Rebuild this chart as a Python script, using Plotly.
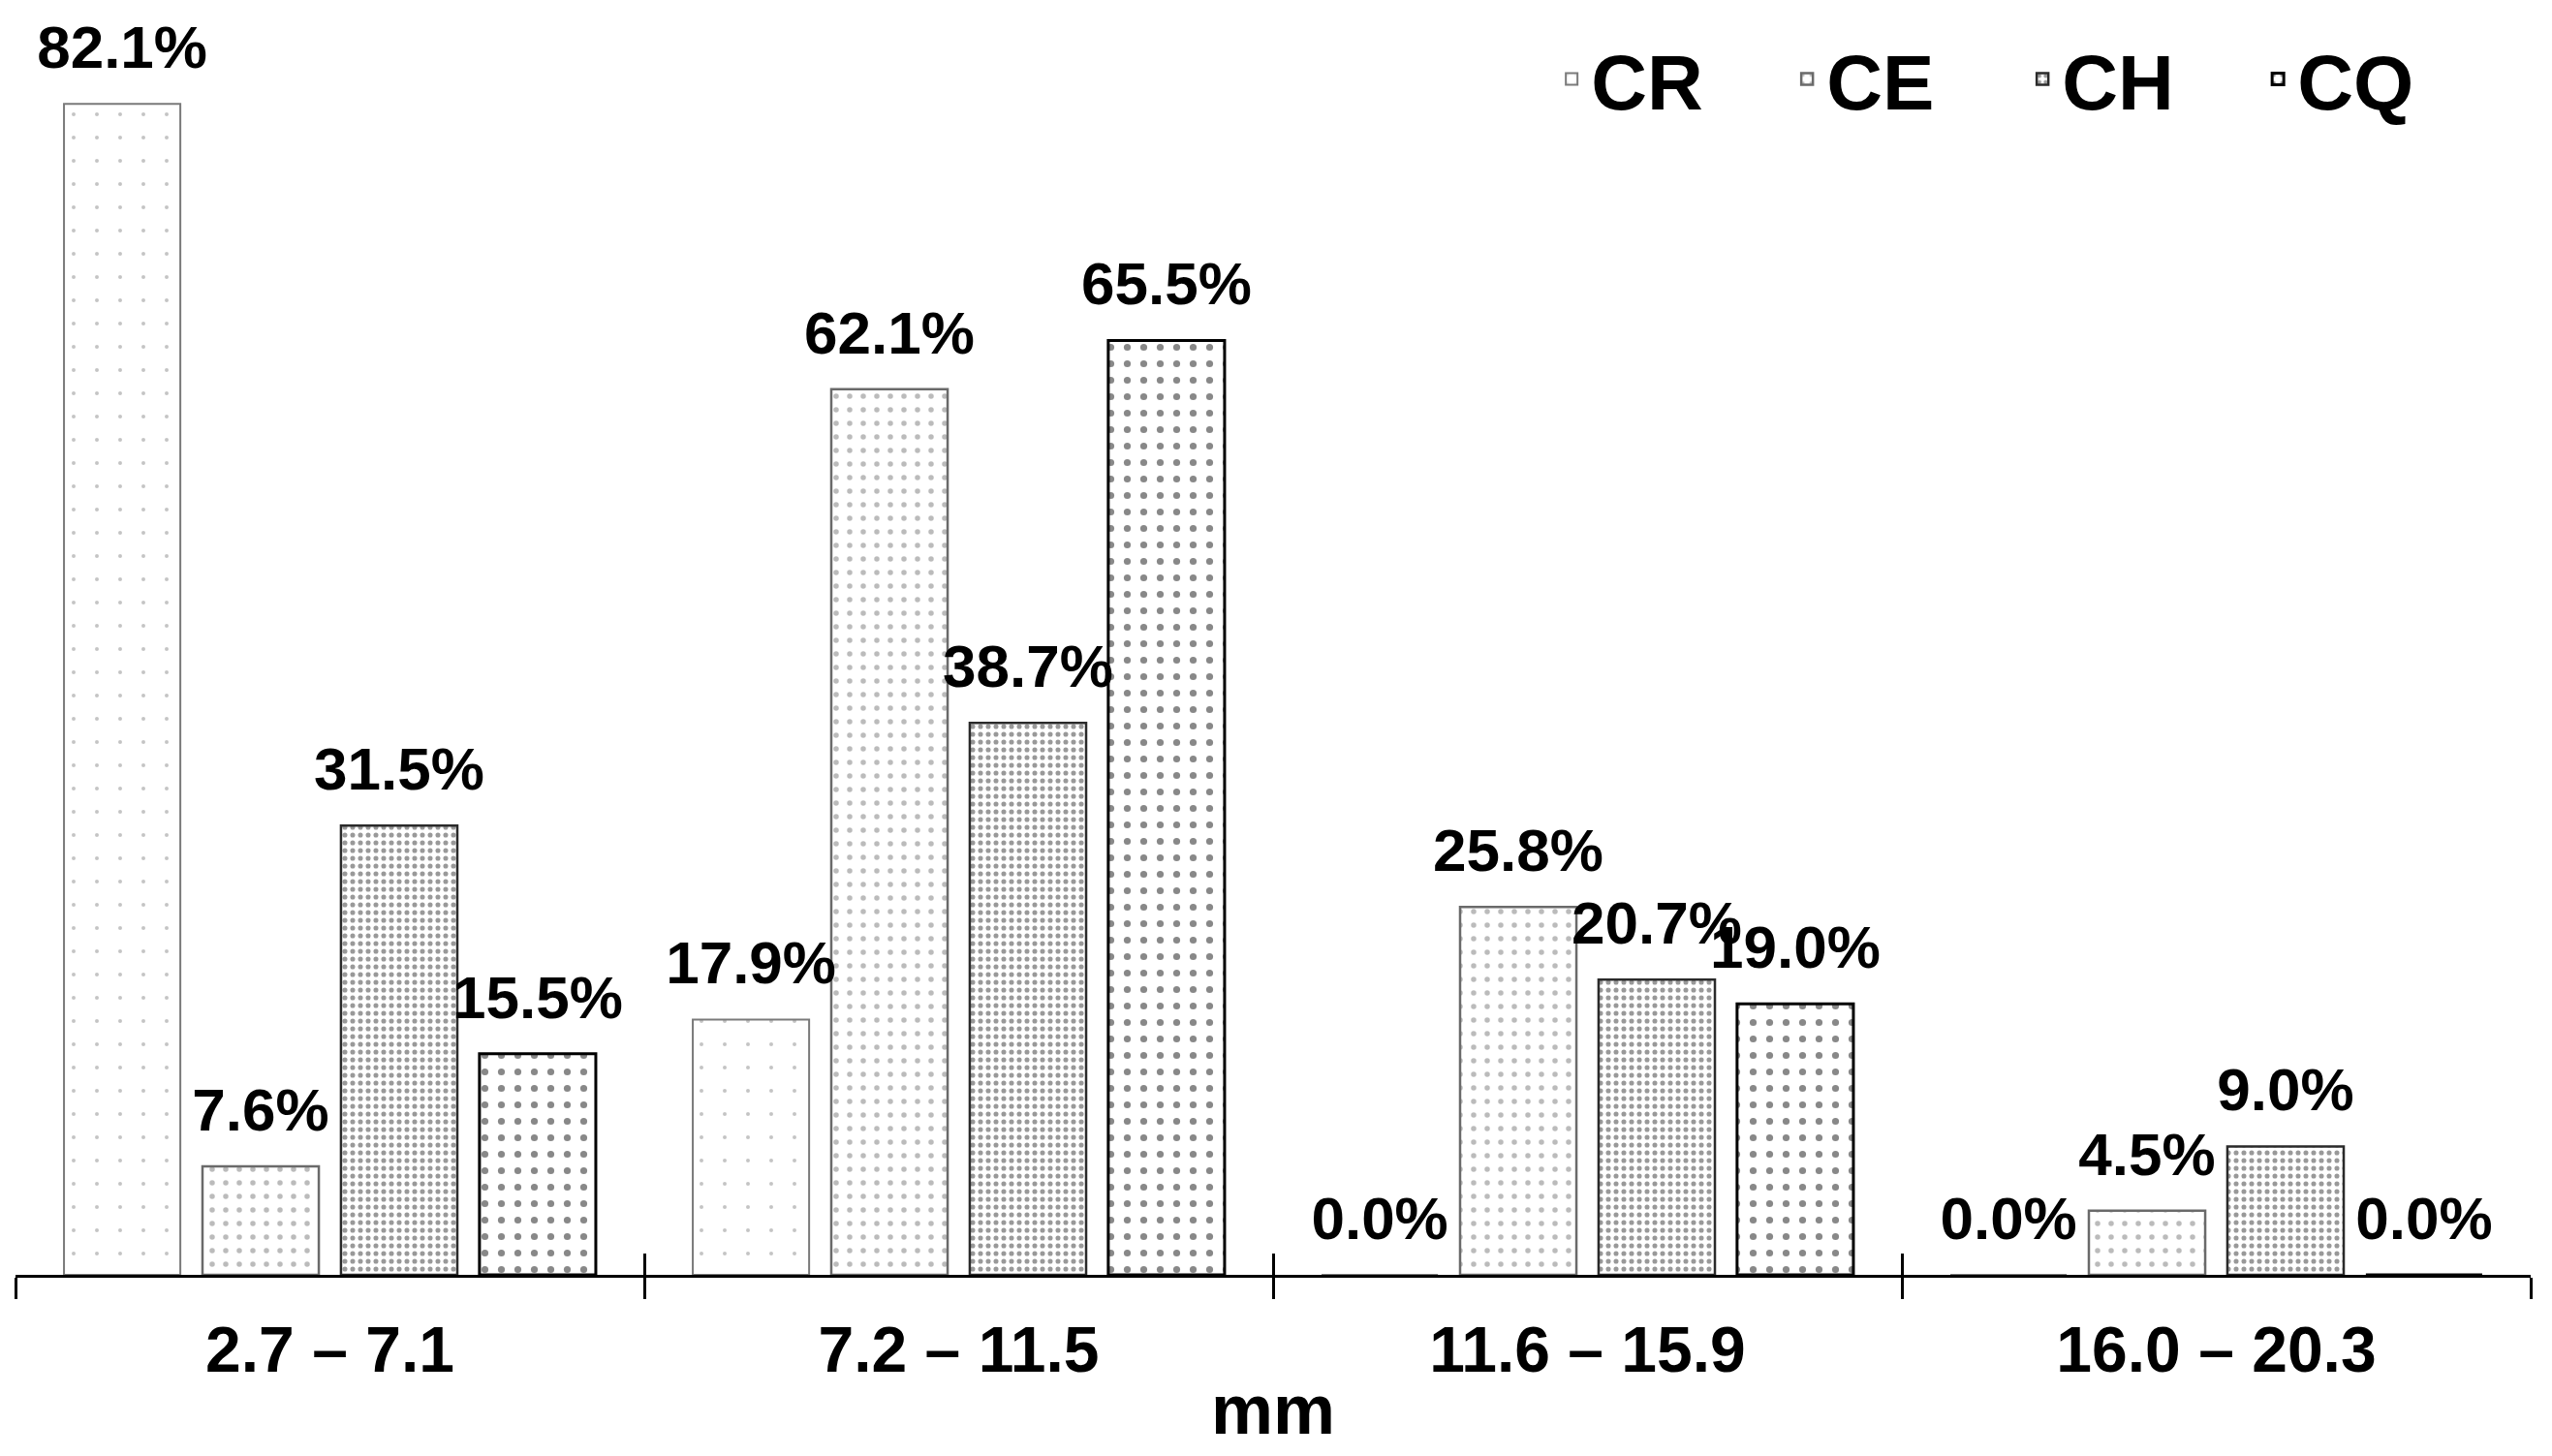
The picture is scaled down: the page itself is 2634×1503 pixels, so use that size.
import plotly.graph_objects as go

categories = ["2.7 – 7.1", "7.2 – 11.5", "11.6 – 15.9", "16.0 – 20.3"]
series_names = ["CR", "CE", "CH", "CQ"]
cr_values = [82.1, 17.9, 0.0, 0.0]
ce_values = [7.6, 62.1, 25.8, 4.5]
ch_values = [31.5, 38.7, 20.7, 9.0]
cq_values = [15.5, 65.5, 19.0, 0.0]
x_title = "mm"

values = [cr_values, ce_values, ch_values, cq_values]
styles = [
    dict(fg="#8a8a8a", size=24, sol=0.022, line="#7a7a7a", lw=2),
    dict(fg="#777777", size=14, sol=0.12, line="#6a6a6a", lw=2.5),
    dict(fg="#333333", size=8, sol=0.32, line="#2a2a2a", lw=2.5),
    dict(fg="#111111", size=17, sol=0.14, line="#000000", lw=3),
]

FONT = "Liberation Sans, Arial, sans-serif"
BARGAP = 0.119

fig = go.Figure()
for name, vals, st in zip(series_names, values, styles):
    fig.add_trace(go.Bar(
        name=name, x=categories, y=vals, offsetgroup=name,
        marker=dict(color="white",
                    line=dict(color=st["line"], width=st["lw"]),
                    pattern=dict(shape=".", fgcolor=st["fg"], bgcolor="white",
                                 size=st["size"], solidity=st["sol"], fillmode="overlay")),
    ))

# value labels, grouped like the bars
for name, vals in zip(series_names, values):
    fig.add_trace(go.Scatter(
        x=categories, y=vals, offsetgroup=name, mode="markers+text",
        text=[f"{v:.1f}%" for v in vals], textposition="top center",
        textfont=dict(family=FONT, size=62, color="black", weight="bold"),
        marker=dict(size=33, color="rgba(0,0,0,0)", line=dict(width=0)),
        showlegend=False, hoverinfo="skip", cliponaxis=False,
    ))

# invisible helper trace for the inside half of the crossing ticks
fig.add_trace(go.Scatter(x=categories, y=[None] * len(categories), xaxis="x2",
                         showlegend=False, hoverinfo="skip", mode="markers"))

fig.update_layout(
    width=2618, height=1487,
    margin=dict(l=8, r=14, t=2, b=179),
    paper_bgcolor="white", plot_bgcolor="white",
    barmode="group", bargap=BARGAP, bargroupgap=0.16,
    scattermode="group", scattergap=BARGAP,
    font=dict(family=FONT, color="black"),
    xaxis=dict(
        type="category", categoryorder="array", categoryarray=categories,
        showline=True, linecolor="black", linewidth=3,
        ticks="outside", tickson="boundaries", ticklen=22, tickwidth=2.5, tickcolor="black",
        tickfont=dict(family=FONT, size=66, color="black", weight="bold"),
        ticklabelstandoff=18,
        title=dict(text=x_title, font=dict(family=FONT, size=72, color="black", weight="bold"),
                   standoff=4),
        showgrid=False, zeroline=False, automargin=False,
    ),
    xaxis2=dict(
        type="category", categoryorder="array", categoryarray=categories,
        overlaying="x", matches="x", anchor="y", side="bottom",
        ticks="inside", tickson="boundaries", ticklen=22, tickwidth=2.5, tickcolor="black",
        showticklabels=False, showline=False, showgrid=False, zeroline=False,
    ),
    yaxis=dict(range=[0, 88.7], visible=False, showgrid=False, zeroline=False),
    legend=dict(
        orientation="h", x=0.611, xanchor="left", y=0.99, yanchor="top",
        font=dict(family=FONT, size=80, color="black", weight="bold"),
        entrywidth=198, bgcolor="rgba(0,0,0,0)",
    ),
    showlegend=True,
)

fig.write_html("out.html")
